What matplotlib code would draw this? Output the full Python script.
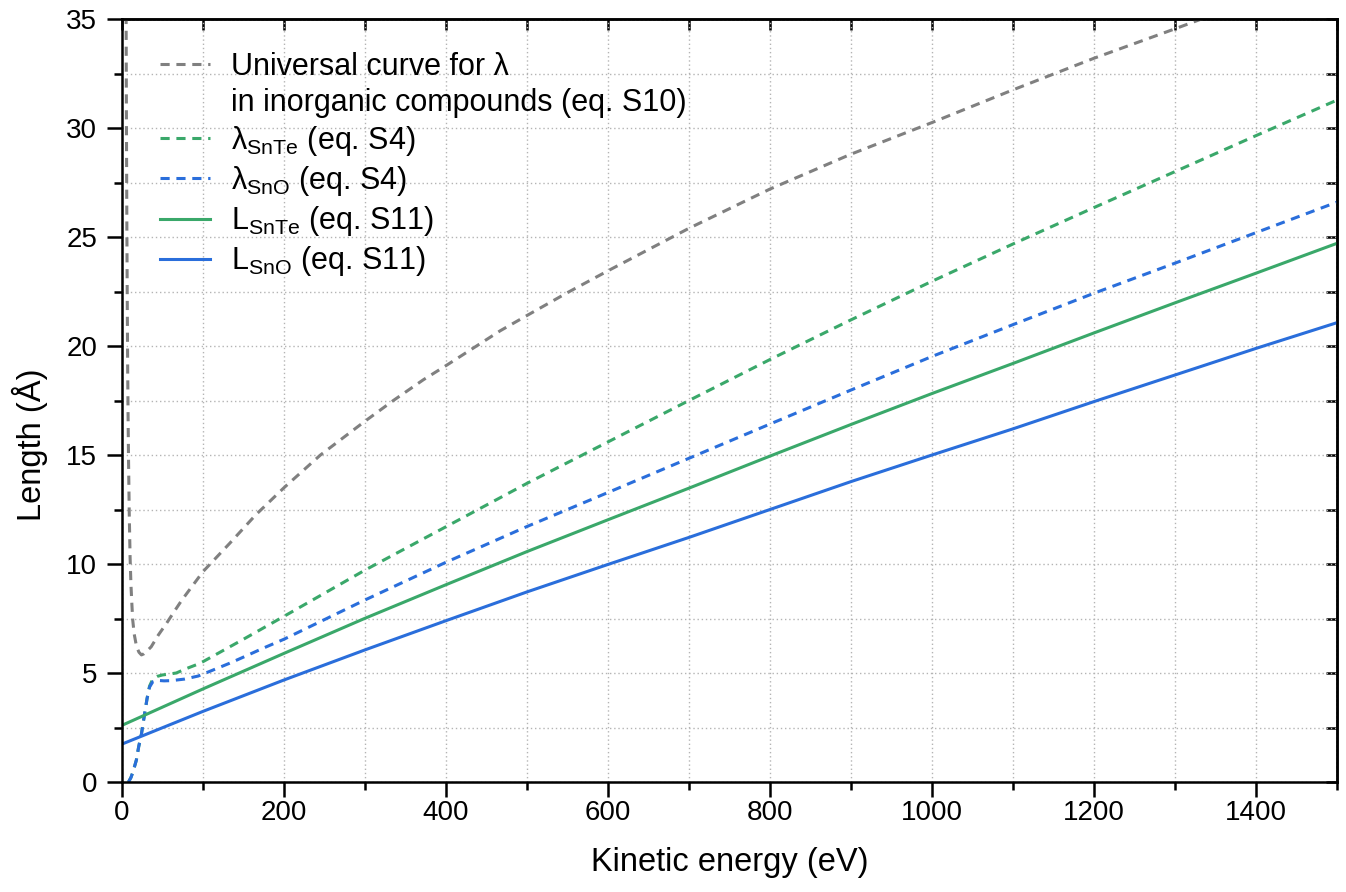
import numpy as np
import matplotlib
matplotlib.use("Agg")
import matplotlib.pyplot as plt
from matplotlib.lines import Line2D
from matplotlib.ticker import MultipleLocator

# --------------------------------------------------
# Data
# --------------------------------------------------

# Universal curve for lambda in inorganic compounds (eq. S10)
E_UNIV = [5.0, 5.5, 6.0, 6.5, 7.0, 7.5, 8.0, 9.0, 10, 11, 12, 13.2, 15, 18,
          21, 24, 27, 30, 36, 45, 55, 65, 74, 100, 133, 165, 200, 245, 300,
          335, 372, 400, 467, 500, 550, 600, 700, 800, 900, 1000, 1100, 1200,
          1300, 1340]
LAM_UNIV = [36.0, 30.0, 25.5, 22.0, 19.0, 16.8, 15.0, 12.2, 10.3, 9.1, 8.3,
            7.45, 6.8, 6.2, 5.95, 5.83, 5.88, 5.98, 6.2, 6.75, 7.28, 7.85,
            8.35, 9.65, 10.95, 12.25, 13.5, 15.0, 16.55, 17.5, 18.45, 19.1,
            20.7, 21.4, 22.45, 23.45, 25.4, 27.2, 28.8, 30.25, 31.75, 33.2,
            34.55, 35.1]

# lambda SnTe (eq. S4)
E_LAM_SNTE = [8, 11, 13.6, 17.7, 20.6, 24, 28, 31, 34, 38, 44, 50, 58, 67,
              80, 94, 100, 133, 150, 200, 250, 300, 400, 500, 600, 700, 800,
              900, 1000, 1100, 1200, 1300, 1400, 1500]
LAM_SNTE = [0.0, 0.2, 0.47, 1.0, 1.62, 2.2, 3.15, 3.84, 4.4, 4.72, 4.85, 4.91,
            4.95, 5.0, 5.21, 5.41, 5.52, 6.2, 6.55, 7.6, 8.66, 9.72, 11.71,
            13.7, 15.6, 17.5, 19.38, 21.2, 22.97, 24.68, 26.35, 28.0, 29.65,
            31.28]

# lambda SnO (eq. S4)
E_LAM_SNO = [8, 11, 13.6, 17.7, 20.6, 24, 28, 31, 34, 38, 44, 52, 61, 77, 94,
             110, 133, 150, 175, 200, 250, 300, 400, 500, 600, 700, 800, 900,
             1000, 1100, 1200, 1300, 1400, 1500]
LAM_SNO = [0.0, 0.2, 0.47, 1.0, 1.62, 2.2, 3.15, 3.84, 4.35, 4.6, 4.66, 4.64,
           4.65, 4.72, 4.86, 5.1, 5.45, 5.73, 6.15, 6.55, 7.45, 8.35, 10.08,
           11.72, 13.28, 14.85, 16.42, 17.98, 19.52, 20.98, 22.42, 23.8, 25.2,
           26.6]

# L SnTe and L SnO (eq. S11)
E_L = [0, 100, 200, 300, 400, 500, 600, 700, 800, 900, 1000, 1100, 1200,
       1300, 1400, 1500]
L_SNTE = [2.6, 4.27, 5.9, 7.51, 9.05, 10.57, 12.03, 13.48, 14.95, 16.4,
          17.82, 19.2, 20.6, 21.98, 23.34, 24.71]
L_SNO = [1.74, 3.24, 4.68, 6.06, 7.4, 8.72, 9.98, 11.22, 12.5, 13.78, 15.0,
         16.2, 17.45, 18.67, 19.89, 21.07]

# --------------------------------------------------
# Style
# --------------------------------------------------

GRAY = "#808080"
GREEN = "#3aa86a"
BLUE = "#2a6edb"

plt.rcParams["font.family"] = ["Liberation Sans", "DejaVu Sans"]
plt.rcParams["mathtext.fontset"] = "custom"
plt.rcParams["mathtext.rm"] = "Liberation Sans"
plt.rcParams["mathtext.it"] = "Liberation Sans"

# --------------------------------------------------
# Figure
# --------------------------------------------------

fig = plt.figure(figsize=(13.46, 8.92), dpi=100)
ax = fig.add_axes([122 / 1346, 1 - 782 / 892, 1215 / 1346, 763 / 892])

LW = 2.2
DASH = (3.0, 2.2)

h_univ, = ax.plot(E_UNIV, LAM_UNIV, color=GRAY, lw=LW, dashes=DASH)
h_lsnte, = ax.plot(E_LAM_SNTE, LAM_SNTE, color=GREEN, lw=LW, dashes=DASH)
h_lsno, = ax.plot(E_LAM_SNO, LAM_SNO, color=BLUE, lw=LW, dashes=DASH)
h_Lsnte, = ax.plot(E_L, L_SNTE, color=GREEN, lw=LW)
h_Lsno, = ax.plot(E_L, L_SNO, color=BLUE, lw=LW)

ax.set_xlim(0, 1500)
ax.set_ylim(0, 35)

ax.xaxis.set_major_locator(MultipleLocator(200))
ax.xaxis.set_minor_locator(MultipleLocator(100))
ax.yaxis.set_major_locator(MultipleLocator(5))
ax.yaxis.set_minor_locator(MultipleLocator(2.5))

ax.grid(True, which="both", color="#b4b4b4", lw=1.0,
        linestyle=(0, (1, 2)))
ax.set_axisbelow(True)

for sp in ax.spines.values():
    sp.set_linewidth(1.8)

ax.tick_params(which="major", direction="out", length=11, width=1.8,
               labelsize=20, pad=2)
ax.tick_params(which="minor", direction="out", length=6, width=1.8)
ax.tick_params(axis="y", which="major", pad=7)

# mirrored ticks on top / right, pointing inwards
top = ax.secondary_xaxis("top")
top.xaxis.set_major_locator(MultipleLocator(100))
top.tick_params(direction="in", length=8, width=1.8, labeltop=False)
top.spines["top"].set_linewidth(1.8)

right = ax.secondary_yaxis("right")
right.yaxis.set_major_locator(MultipleLocator(2.5))
right.tick_params(direction="in", length=8, width=1.8, labelright=False)
right.spines["right"].set_linewidth(1.8)

ax.set_xlabel("Kinetic energy (eV)", fontsize=23.5, va="center")
ax.xaxis.set_label_coords(0.5, (782 - 862) / 763)
ax.set_ylabel("Length (Å)", fontsize=23.5, va="center")
ax.yaxis.set_label_coords((30 - 122) / 1215, (782 - 445) / 763)

# --------------------------------------------------
# Legend (second line of the first entry has no handle)
# --------------------------------------------------

blank = Line2D([], [], color="none")

handles = [h_univ, blank, h_lsnte, h_lsno, h_Lsnte, h_Lsno]
labels = [
    "Universal curve for λ",
    "in inorganic compounds (eq. S10)",
    r"λ$_{\mathrm{SnTe}}$ (eq. S4)",
    r"λ$_{\mathrm{SnO}}$ (eq. S4)",
    r"L$_{\mathrm{SnTe}}$ (eq. S11)",
    r"L$_{\mathrm{SnO}}$ (eq. S11)",
]

ax.legend(
    handles,
    labels,
    loc="upper left",
    bbox_to_anchor=(0.031, 0.957),
    frameon=False,
    fontsize=22,
    handlelength=1.65,
    handletextpad=0.7,
    labelspacing=0.2,
    borderpad=0,
    borderaxespad=0,
)

fig.savefig("out.png", dpi=100)
